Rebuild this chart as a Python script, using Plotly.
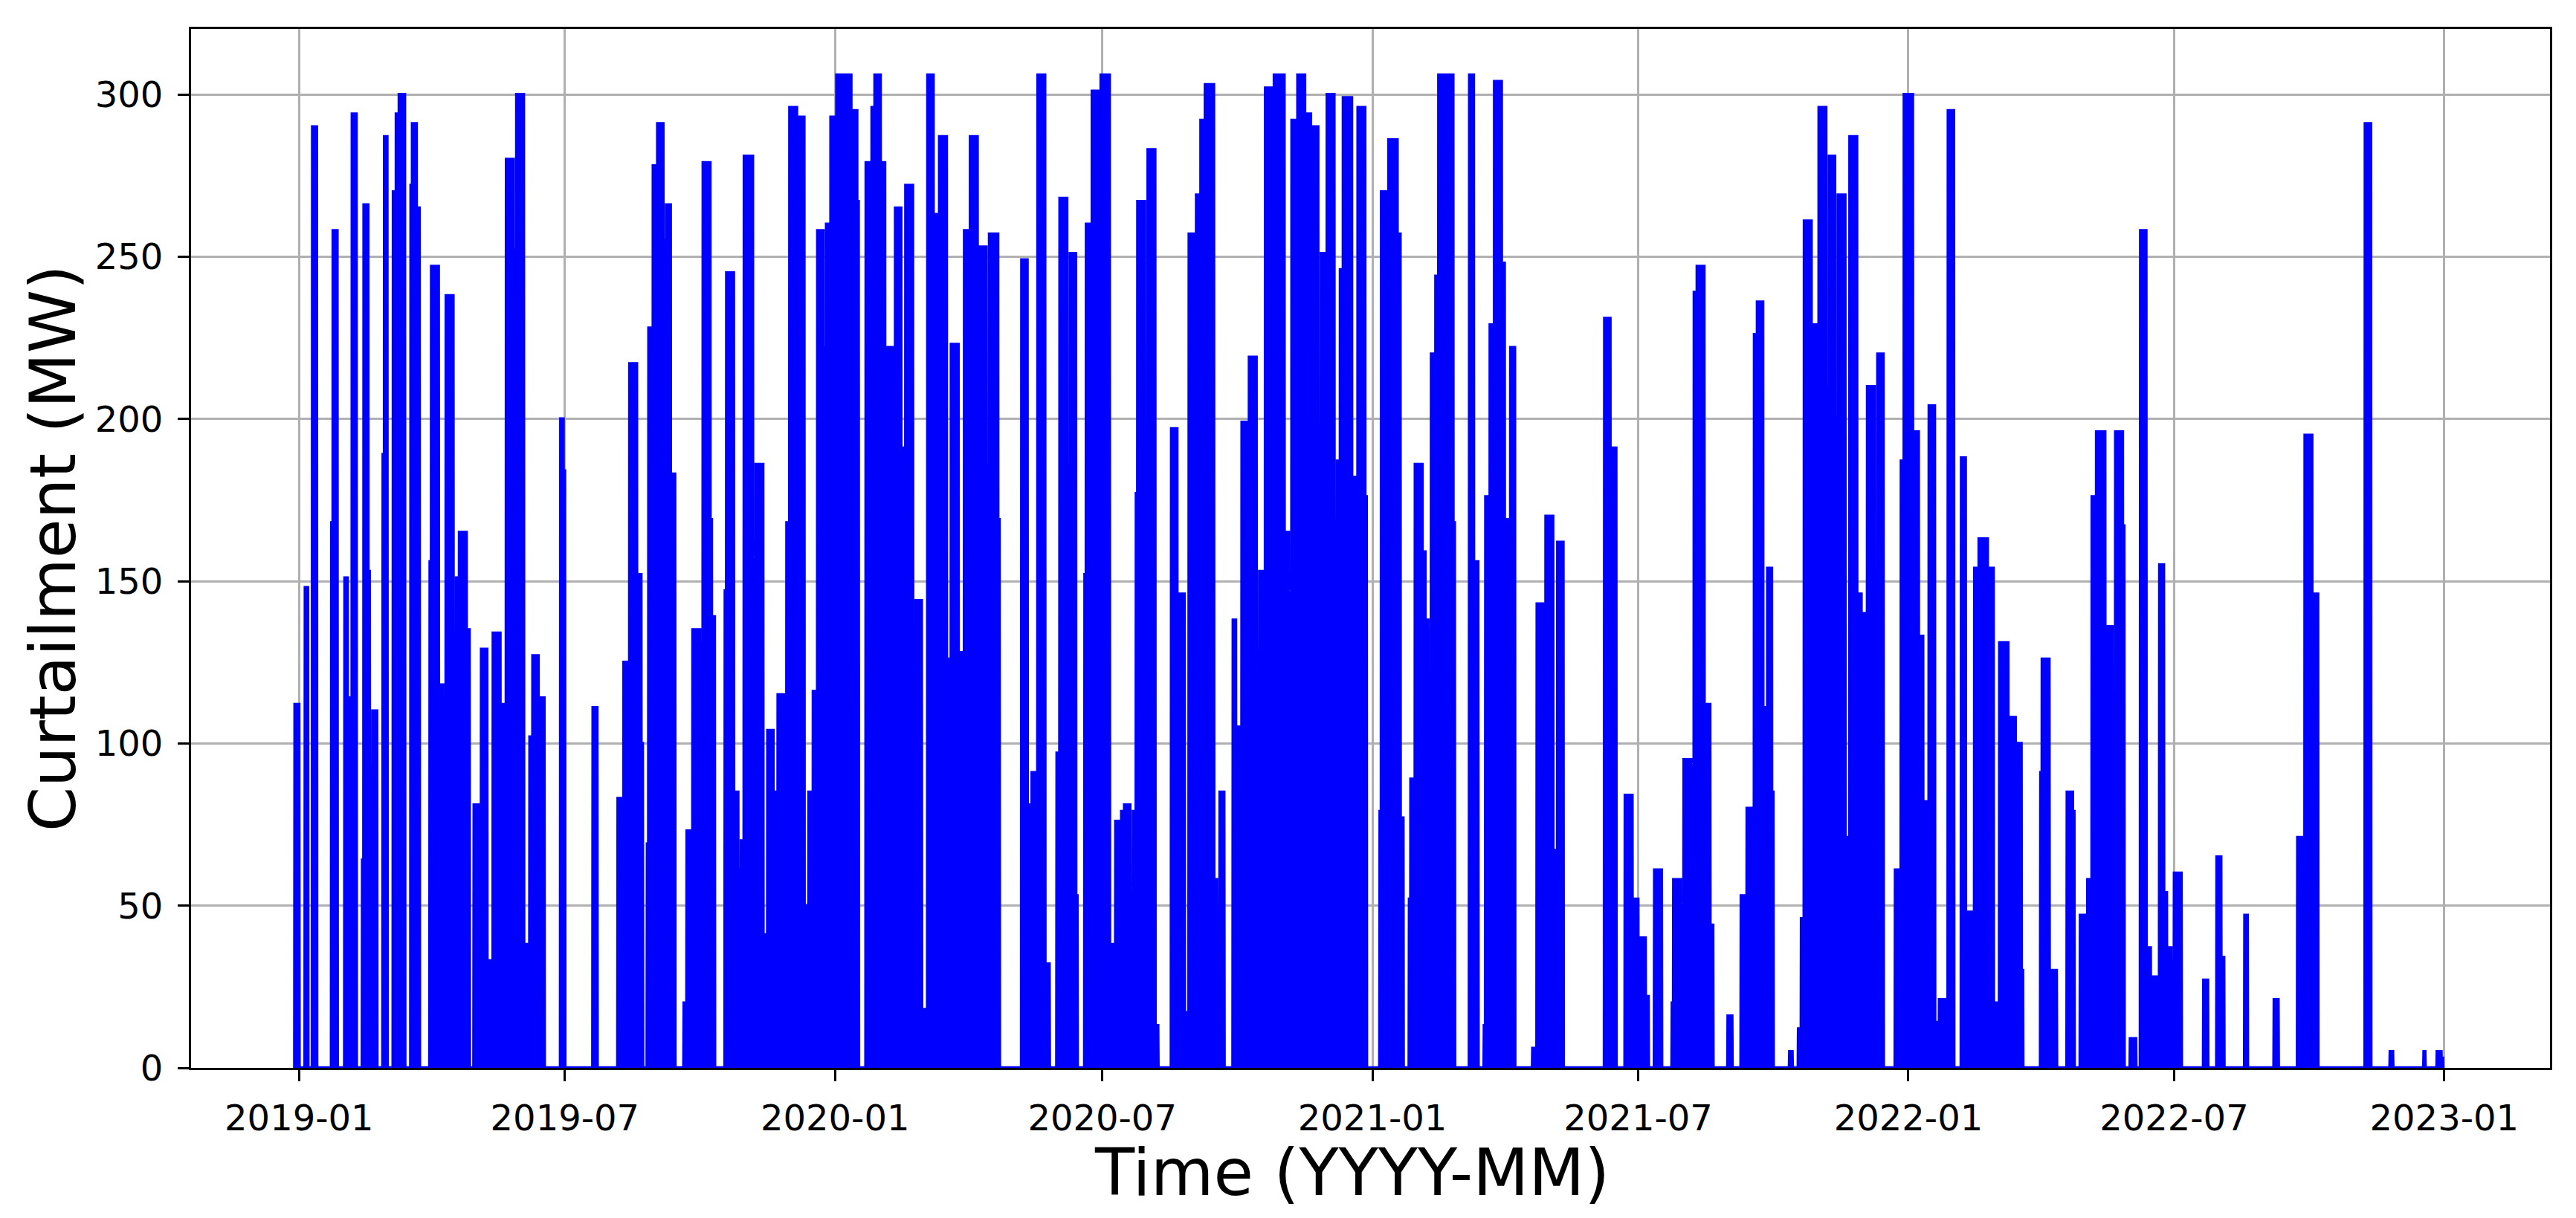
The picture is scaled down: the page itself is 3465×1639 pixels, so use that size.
import pandas as pd
import plotly.graph_objects as go

base_date = "2019-01-01"   # day 0 of the series

# Curtailment episodes: first day, last day (days since base_date), level in MW
seg_start = [-3, 4, 9, 22, 23, 31, 33, 36, 43, 44, 47, 50, 57, 58, 64, 66, 68, 76, 77, 80,
             89, 90, 95, 98, 100, 105, 107, 109, 114, 119, 123, 124, 128, 132, 137, 141, 146, 148, 153, 156,
             157, 159, 163, 178, 180, 200, 217, 221, 225, 230, 233, 237, 238, 241, 244, 248, 250, 253, 262, 264,
             268, 273, 275, 280, 281, 290, 291, 296, 299, 301, 303, 309, 311, 316,
             319, 323, 326, 332, 334, 339, 344, 347, 350, 353, 357, 359, 362, 366, 376, 380, 386, 390, 392, 396,
             399, 405, 406, 410, 413, 418, 420, 424, 428, 432, 436, 441, 443, 444, 449, 453, 457, 462, 468, 470,
             476, 492, 496, 499, 503, 508, 516, 518, 523, 525, 529, 535, 536, 540, 546, 552, 556, 560, 562, 566,
             568, 570, 571, 576, 578, 583, 594, 598, 603, 606, 611, 614, 617, 623, 625, 627,
             636, 638, 642, 647, 654, 658, 664, 671, 676, 680, 685, 689, 696, 700, 705, 707, 709, 711, 717, 721,
             726, 736, 737, 742, 748, 750, 756, 757, 760, 765, 767, 769, 771, 774, 776, 786, 797, 800, 807, 808,
             811, 814, 819, 821, 825, 840, 843, 849, 854, 857, 889, 893, 903, 908, 912, 917, 923, 935, 936, 943,
             948, 950, 952, 957, 961, 973, 982, 986, 991, 993, 997, 1000, 1003, 1015, 1021, 1023, 1025, 1030, 1031, 1035,
             1040, 1042, 1046, 1048, 1053, 1056, 1061, 1064, 1068, 1073, 1075, 1087, 1091, 1093, 1099, 1103, 1106, 1108, 1110, 1114,
             1117, 1123, 1132, 1135, 1141, 1144, 1150, 1154, 1158, 1164, 1169, 1173, 1186, 1187, 1192, 1204, 1208, 1213, 1218, 1221,
             1224, 1230, 1235, 1237, 1242, 1247, 1254, 1258, 1261,
             1267, 1270, 1272, 1275, 1277, 1297, 1306, 1309, 1325, 1345, 1361, 1366, 1371, 1407, 1424, 1447, 1456, 1459]
seg_end = [-1, 5, 11, 22, 25, 32, 33, 38, 43, 46, 47, 52, 57, 59, 65, 67, 71, 76, 79, 81,
           89, 94, 97, 99, 104, 106, 108, 113, 115, 122, 123, 127, 131, 136, 140, 145, 147, 152, 155, 156,
           158, 162, 166, 179, 180, 202, 220, 224, 229, 232, 233, 237, 240, 243, 247, 249, 252, 255, 263, 267,
           272, 274, 279, 280, 282, 290, 295, 298, 300, 302, 308, 310, 315, 318,
           322, 325, 331, 333, 338, 343, 346, 349, 352, 356, 358, 361, 365, 375, 379, 380, 389, 391, 395, 398,
           404, 405, 409, 412, 417, 419, 423, 425, 431, 435, 440, 442, 443, 448, 452, 456, 461, 467, 469, 475,
           476, 495, 498, 502, 507, 510, 517, 522, 524, 528, 529, 535, 539, 545, 551, 555, 559, 561, 565, 567,
           569, 570, 575, 577, 582, 584, 597, 602, 605, 610, 613, 616, 622, 624, 626, 629,
           637, 641, 646, 651, 657, 663, 670, 673, 679, 684, 688, 693, 699, 704, 706, 708, 710, 716, 720, 725,
           726, 736, 741, 747, 749, 751, 756, 759, 764, 766, 768, 770, 773, 775, 785, 786, 799, 802, 807, 810,
           813, 818, 820, 824, 827, 841, 848, 853, 854, 860, 892, 896, 907, 911, 916, 918, 927, 935, 940, 947,
           949, 951, 956, 960, 962, 975, 985, 990, 992, 996, 999, 1002, 1003, 1016, 1022, 1024, 1029, 1030, 1034, 1039,
           1041, 1045, 1047, 1052, 1055, 1060, 1063, 1067, 1072, 1074, 1078, 1090, 1092, 1098, 1102, 1105, 1107, 1109, 1113, 1116,
           1122, 1126, 1134, 1140, 1143, 1149, 1153, 1157, 1163, 1168, 1172, 1173, 1186, 1191, 1196, 1207, 1208, 1217, 1220, 1223,
           1229, 1234, 1236, 1241, 1242, 1250, 1257, 1260, 1264,
           1269, 1271, 1274, 1276, 1281, 1299, 1308, 1310, 1326, 1347, 1365, 1370, 1374, 1410, 1425, 1447, 1458, 1459]
seg_mw = [112, 148, 290, 168, 258, 151, 114, 294, 64, 266, 153, 110, 189, 287, 270, 294, 300, 272, 291, 265,
          156, 247, 118, 104, 238, 98, 151, 165, 135, 81, 40, 129, 33, 134, 112, 280, 252, 300, 38, 20,
          102, 127, 114, 200, 184, 111, 83, 125, 217, 152, 100, 69, 228, 278, 291, 255, 266, 183, 20, 73,
          135, 101, 279, 169, 139, 147, 245, 85, 61, 70, 281, 128, 186, 41,
          104, 85, 115, 168, 296, 293, 50, 85, 116, 258, 222, 260, 293, 306, 295, 267, 279, 296, 306, 279,
          222, 172, 265, 191, 272, 128, 144, 18, 306, 263, 287, 126, 60, 223, 128, 258, 287, 253, 62, 257,
          169, 249, 81, 91, 306, 32, 97, 268, 108, 251, 53, 152, 260, 301, 306, 38, 76, 79, 81, 44,
          79, 177, 267, 58, 283, 13, 197, 146, 17, 257, 269, 292, 303, 58, 16, 85,
          138, 105, 199, 219, 153, 302, 306, 165, 292, 306, 294, 290, 251, 300, 111, 187, 246, 299, 182, 296,
          176, 79, 270, 286, 257, 77, 52, 89, 186, 159, 138, 77, 220, 244, 306, 168, 306, 156, 13, 176,
          229, 304, 248, 169, 222, 6, 143, 170, 67, 162, 231, 191, 84, 52, 40, 22, 61, 20, 58, 95,
          28, 239, 247, 112, 44, 16, 53, 80, 226, 236, 111, 154, 85, 5, 12, 46, 261, 150, 229, 296,
          157, 281, 104, 269, 71, 287, 146, 140, 210, 95, 220, 61, 187, 300, 196, 133, 82, 36, 204, 14,
          21, 295, 188, 48, 154, 163, 154, 20, 131, 108, 100, 30, 91, 126, 30, 85, 79, 47, 58, 176,
          196, 136, 50, 196, 167, 9, 258, 37, 28,
          155, 54, 37, 9, 60, 27, 65, 34, 47, 21, 71, 195, 146, 291, 5, 5, 5, 3]

series_first_day, series_last_day = -3, 1460

x_ticks = ["2019-01-01", "2019-07-01", "2020-01-01", "2020-07-01", "2021-01-01",
           "2021-07-01", "2022-01-01", "2022-07-01", "2023-01-01"]
y_ticks = [0, 50, 100, 150, 200, 250, 300]

# Build the line: each curtailed day rises from 0, holds its level, and falls back to 0
day_x, day_y = [series_first_day], [0]
for s, e, v in zip(seg_start, seg_end, seg_mw):
    for d in range(s, e + 1):
        day_x += [d, d + 0.2, d + 0.8, d + 1]
        day_y += [0, v, v, 0]
day_x.append(series_last_day + 1)
day_y.append(0)

base = pd.Timestamp(base_date)
times = base + pd.to_timedelta(day_x, unit="D")

fig = go.Figure()
fig.add_trace(go.Scatter(x=times, y=day_y, mode="lines",
                         line=dict(color="#0000ff", width=4.5), hoverinfo="skip"))

x_left = base + pd.Timedelta(days=-73.6)
x_right = base + pd.Timedelta(days=1533.0)

axis_common = dict(showgrid=True, gridcolor="#b0b0b0", gridwidth=2.6,
                   showline=True, linecolor="black", linewidth=3.3, mirror=True,
                   ticks="outside", ticklen=15, tickwidth=3.3, tickcolor="black",
                   zeroline=False, automargin=False,
                   tickfont=dict(family="DejaVu Sans", size=48, color="black"))

fig.update_xaxes(type="date", range=[x_left, x_right], tickmode="array",
                 tickvals=x_ticks, ticktext=[t[:7] for t in x_ticks], ticklabelstandoff=8, **axis_common)
fig.update_yaxes(range=[0, 320.2], tickmode="array", tickvals=y_ticks,
                 ticktext=[str(v) for v in y_ticks], ticklabelstandoff=10, **axis_common)

fig.update_layout(width=3465, height=1639,
                  margin=dict(l=257, r=35, t=39, b=202, pad=0),
                  plot_bgcolor="white", paper_bgcolor="white", showlegend=False,
                  font=dict(family="DejaVu Sans", size=48, color="black"))

fig.add_annotation(text="Time (YYYY-MM)", xref="paper", yref="paper", x=0.492, y=-0.1009,
                   xanchor="center", yanchor="middle", showarrow=False,
                   font=dict(family="DejaVu Sans", size=87, color="black"))
fig.add_annotation(text="Curtailment (MW)", xref="paper", yref="paper", x=-0.0586, y=0.5,
                   xanchor="center", yanchor="middle", textangle=-90, showarrow=False,
                   font=dict(family="DejaVu Sans", size=86, color="black"))

fig.write_html("out.html", config={"displayModeBar": False},
               post_script="document.body.style.margin='0px';document.body.style.overflow='hidden';")
